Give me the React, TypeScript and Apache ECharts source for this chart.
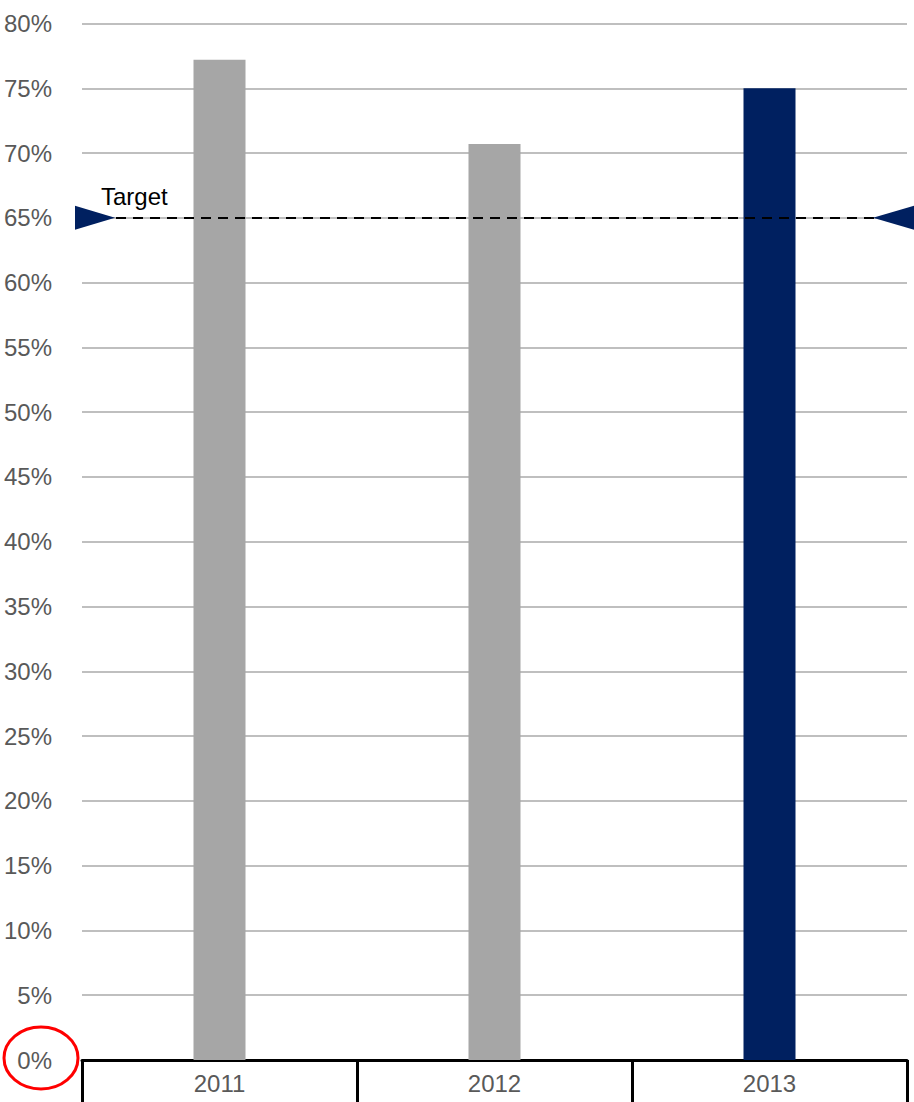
import React, { useEffect, useRef } from "react";
import * as echarts from "echarts";

const categories = ["2011", "2012", "2013"];
const values = [77.2, 70.7, 75.0];
const barColors = ["#a6a6a6", "#a6a6a6", "#002060"];
const targetValue = 65;
const targetLabel = "Target";
const yMin = 0;
const yMax = 80;
const yInterval = 5;

export default function App() {
  const ref = useRef<HTMLDivElement>(null);
  useEffect(() => {
    if (!ref.current) return;
    const chart = echarts.init(ref.current, undefined, { renderer: "svg" });
    const font = "'Liberation Sans', Arial, sans-serif";
    chart.setOption({
      animation: false,
      backgroundColor: "#ffffff",
      textStyle: { fontFamily: font },
      grid: { left: 82, right: 7, top: 23.5, bottom: 42 },
      xAxis: {
        type: "category",
        data: categories,
        axisLine: { show: true, lineStyle: { color: "#000000", width: 3 } },
        axisTick: { show: true, length: 42, lineStyle: { color: "#000000", width: 3 } },
        axisLabel: { color: "#595959", fontSize: 24, margin: 11, fontFamily: font },
        splitLine: { show: false },
      },
      yAxis: {
        type: "value",
        min: yMin,
        max: yMax,
        interval: yInterval,
        axisLine: { show: false },
        axisTick: { show: false },
        axisLabel: { color: "#595959", fontSize: 24, margin: 30, formatter: "{value}%", fontFamily: font },
        splitLine: { lineStyle: { color: "#bfbfbf", width: 2 } },
      },
      series: [
        {
          type: "bar",
          barWidth: 52,
          data: values.map((v, i) => ({ value: v, itemStyle: { color: barColors[i] } })),
          markLine: {
            silent: true,
            symbol: "none",
            label: { show: false },
            lineStyle: { color: "#000000", type: [10, 7], width: 2 },
            data: [{ yAxis: targetValue }],
          },
        },
      ],
    });
    const py = chart.convertToPixel({ yAxisIndex: 0 }, targetValue) as number;
    chart.setOption({
      graphic: [
        {
          type: "polygon",
          shape: { points: [[75, py - 12], [115, py], [75, py + 12]] },
          style: { fill: "#002060" },
          z: 100,
        },
        {
          type: "polygon",
          shape: { points: [[914, py - 12], [873, py], [914, py + 12]] },
          style: { fill: "#002060" },
          z: 100,
        },
        {
          type: "text",
          x: 101,
          y: py - 21,
          style: {
            text: targetLabel,
            fontSize: 24,
            fontFamily: font,
            fill: "#000000",
            verticalAlign: "middle",
            align: "left",
          },
          z: 100,
        },
        {
          type: "ellipse",
          shape: { cx: 41, cy: 1058, rx: 37, ry: 31 },
          style: { fill: "none", stroke: "#ff0000", lineWidth: 3 },
          z: 100,
        },
      ],
    });
    return () => chart.dispose();
  }, []);
  return (
    <div
      ref={ref}
      style={{ position: "fixed", left: 0, top: 0, width: 914, height: 1102 }}
    />
  );
}
